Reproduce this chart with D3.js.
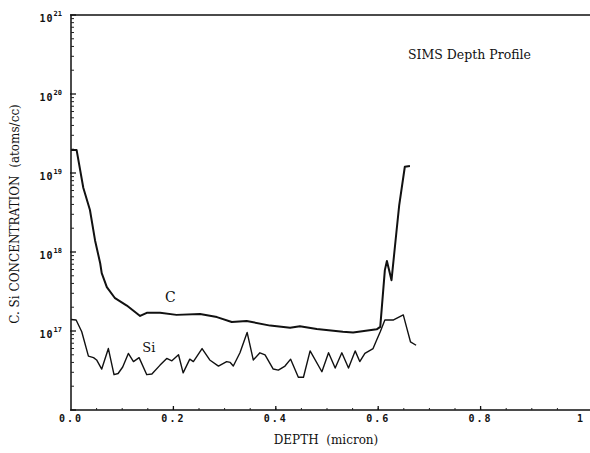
<!DOCTYPE html>
<html>
<head>
<meta charset="utf-8">
<script src="https://cdn.jsdelivr.net/npm/d3@7"></script>
<style>
  body { margin: 0; background: #fff; }
  svg { display: block; }
  .lbl { font-family: "DejaVu Serif", serif; fill: #111; }
  .tick-lbl { font-family: "DejaVu Sans Mono", monospace; fill: #111; }
</style>
</head>
<body>
<div id="chart"></div>
<script>
// depth (micron) and concentration (atoms/cc)
const cDepth = [0.000, 0.011, 0.024, 0.037, 0.047, 0.057, 0.060, 0.070, 0.086, 0.109, 0.135, 0.148,
  0.174, 0.206, 0.252, 0.285, 0.314, 0.343, 0.389, 0.428, 0.447, 0.480, 0.531, 0.551, 0.597,
  0.604, 0.613, 0.617, 0.626, 0.636, 0.641, 0.652, 0.662];
const cConc = [1.95e19, 1.95e19, 6.5e18, 3.4e18, 1.4e18, 7.2e17, 5.4e17, 3.6e17, 2.6e17, 2.1e17, 1.55e17, 1.7e17,
  1.7e17, 1.6e17, 1.64e17, 1.5e17, 1.3e17, 1.34e17, 1.17e17, 1.1e17, 1.15e17, 1.06e17, 9.8e16, 9.6e16, 1.05e17,
  1.13e17, 5.9e17, 7.7e17, 4.4e17, 1.9e18, 3.9e18, 1.2e19, 1.23e19];

const siDepth = [0.000, 0.010, 0.021, 0.034, 0.044, 0.050, 0.060, 0.073, 0.084, 0.092, 0.101, 0.112,
  0.122, 0.133, 0.148, 0.158, 0.174, 0.187, 0.197, 0.210, 0.219, 0.232, 0.239, 0.256, 0.271,
  0.288, 0.304, 0.311, 0.317, 0.330, 0.344, 0.356, 0.369, 0.379, 0.395, 0.405, 0.418, 0.429,
  0.444, 0.454, 0.467, 0.490, 0.503, 0.516, 0.529, 0.542, 0.555, 0.564, 0.574, 0.590, 0.597,
  0.604, 0.613, 0.630, 0.649, 0.656, 0.663, 0.674];
const siConc = [1.4e17, 1.38e17, 9.8e16, 4.8e16, 4.6e16, 4.3e16, 3.3e16, 6.0e16, 2.8e16, 2.9e16, 3.5e16, 5.2e16,
  4.1e16, 4.6e16, 2.8e16, 2.85e16, 3.7e16, 4.5e16, 4.2e16, 5.0e16, 2.95e16, 4.4e16, 4.1e16, 6.0e16, 4.3e16,
  3.6e16, 4.1e16, 4.0e16, 3.6e16, 5.3e16, 9.6e16, 4.3e16, 5.3e16, 5.0e16, 3.3e16, 3.2e16, 3.6e16, 4.4e16,
  2.6e16, 2.6e16, 5.6e16, 3.05e16, 5.3e16, 3.4e16, 5.3e16, 3.4e16, 5.6e16, 4.1e16, 5.2e16, 6.0e16, 7.7e16,
  9.8e16, 1.38e17, 1.38e17, 1.6e17, 1.08e17, 7.3e16, 6.6e16];

const xTicks = [0, 0.2, 0.4, 0.6, 0.8, 1];
const xTickLabels = ["0.0", "0.2", "0.4", "0.6", "0.8", "1"];
const yExponents = [16, 17, 18, 19, 20, 21];
const yLabelExponents = [17, 18, 19, 20, 21];

const W = 590, H = 453;
const plotLeft = 71, plotRight = 583, plotTop = 15, plotBottom = 410;

const svg = d3.select("#chart").append("svg")
    .attr("width", W)
    .attr("height", H);

const x = d3.scaleLinear().domain([0, 1]).range([plotLeft, plotRight]);
const y = d3.scaleLog().domain([1e16, 1e21]).range([plotBottom, plotTop]);

// frame: left, bottom and top lines
svg.append("path")
    .attr("d", `M${W},${plotTop}H${plotLeft}V${plotBottom}H${W}`)
    .attr("fill", "none")
    .attr("stroke", "#111")
    .attr("stroke-width", 1.5);

// y ticks, inward
let yMinor = [];
yExponents.slice(0, -1).forEach(e => {
    for (let k = 2; k <= 9; k++) yMinor.push(k * Math.pow(10, e));
});
svg.selectAll(".ymin").data(yMinor).enter().append("line")
    .attr("x1", plotLeft).attr("x2", plotLeft + 3)
    .attr("y1", d => y(d)).attr("y2", d => y(d))
    .attr("stroke", "#222").attr("stroke-width", 1);
svg.selectAll(".ymaj").data(yExponents).enter().append("line")
    .attr("x1", plotLeft - 1).attr("x2", plotLeft + 5)
    .attr("y1", d => y(Math.pow(10, d))).attr("y2", d => y(Math.pow(10, d)))
    .attr("stroke", "#111").attr("stroke-width", 1.3);

const yl = svg.selectAll(".ylab").data(yLabelExponents).enter().append("text")
    .attr("class", "tick-lbl")
    .attr("x", plotLeft - 9)
    .attr("y", d => y(Math.pow(10, d)) + 7)
    .attr("text-anchor", "end")
    .attr("font-size", 10)
    .attr("font-weight", "bold");
yl.append("tspan").text("10").attr("letter-spacing", 1);
yl.append("tspan").text(d => d).attr("font-size", 7).attr("dy", -6);

// x ticks, inward
const xMinor = d3.range(0.05, 1, 0.05);
svg.selectAll(".xmin").data(xMinor).enter().append("line")
    .attr("x1", d => x(d)).attr("x2", d => x(d))
    .attr("y1", plotBottom).attr("y2", plotBottom - 2)
    .attr("stroke", "#222").attr("stroke-width", 1);
svg.selectAll(".xmaj").data(xTicks.slice(1, -1)).enter().append("line")
    .attr("x1", d => x(d)).attr("x2", d => x(d))
    .attr("y1", plotBottom).attr("y2", plotBottom - 4)
    .attr("stroke", "#111").attr("stroke-width", 1.3);

svg.selectAll(".xlab").data(xTicks).enter().append("text")
    .attr("class", "tick-lbl")
    .attr("x", (d, i) => x(d) + (i === xTicks.length - 1 ? -2 : 0))
    .attr("y", plotBottom + 12)
    .attr("text-anchor", "middle")
    .attr("font-size", 10)
    .attr("font-weight", "bold")
    .attr("letter-spacing", 2)
    .text((d, i) => xTickLabels[i]);

// curves
const line = d3.line().x(d => x(d[0])).y(d => y(d[1]));
svg.append("path")
    .datum(cDepth.map((d, i) => [d, cConc[i]]))
    .attr("d", line)
    .attr("fill", "none")
    .attr("stroke", "#111")
    .attr("stroke-width", 2)
    .attr("stroke-linejoin", "round");
svg.append("path")
    .datum(siDepth.map((d, i) => [d, siConc[i]]))
    .attr("d", line)
    .attr("fill", "none")
    .attr("stroke", "#111")
    .attr("stroke-width", 1.4)
    .attr("stroke-linejoin", "round");

// curve labels
svg.append("text").attr("class", "lbl")
    .attr("x", x(0.194)).attr("y", y(2.35e17))
    .attr("text-anchor", "middle").attr("font-size", 14)
    .text("C");
svg.append("text").attr("class", "lbl")
    .attr("x", x(0.152)).attr("y", y(5.4e16))
    .attr("text-anchor", "middle").attr("font-size", 13)
    .text("Si");

// title
svg.append("text").attr("class", "lbl")
    .attr("x", 408).attr("y", 59)
    .attr("font-size", 12.5)
    .text("SIMS Depth Profile");

// axis titles
svg.append("text").attr("class", "lbl")
    .attr("transform", `translate(19, 214) rotate(-90)`)
    .attr("text-anchor", "middle")
    .attr("font-size", 12)
    .attr("xml:space", "preserve")
    .text("C. Si CONCENTRATION  (atoms/cc)");
svg.append("text").attr("class", "lbl")
    .attr("x", 326).attr("y", 444)
    .attr("text-anchor", "middle")
    .attr("font-size", 12)
    .attr("xml:space", "preserve")
    .text("DEPTH  (micron)");
</script>
</body>
</html>
